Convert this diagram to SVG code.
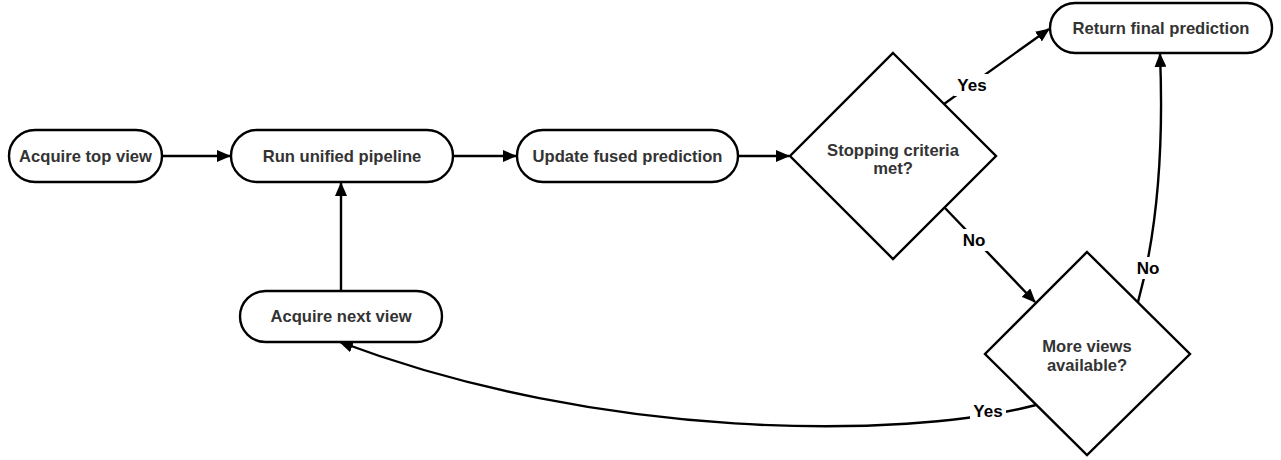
<svg xmlns="http://www.w3.org/2000/svg" width="1281" height="460" viewBox="0 0 1281 460">
<style>
.n{fill:#fff;stroke:#000;stroke-width:2.4}
.t{font-family:"Liberation Sans",Arial,sans-serif;font-weight:bold;font-size:16.6px;fill:#333;text-anchor:middle}
.e{fill:none;stroke:#000;stroke-width:2.4}
.l{font-family:"Liberation Sans",Arial,sans-serif;font-weight:bold;font-size:17px;fill:#000;text-anchor:middle}
.lb{fill:#fff}
</style>
<defs>
<marker id="a" viewBox="0 0 14 12" refX="13" refY="6" markerWidth="14" markerHeight="12" markerUnits="userSpaceOnUse" orient="auto">
<path d="M0,0 L14,6 L0,12 Z" fill="#000"/>
</marker>
</defs>
<g id="connectors">
<path class="e" d="M162,156 L230,156" marker-end="url(#a)"/>
<path class="e" d="M453,156 L516,156" marker-end="url(#a)"/>
<path class="e" d="M738,156 L789,156" marker-end="url(#a)"/>
<path class="e" d="M341,291 L341,183" marker-end="url(#a)"/>
<path class="e" d="M944,104 L1049,29" marker-end="url(#a)"/>
<path class="e" d="M945,208 L1035,302" marker-end="url(#a)"/>
<path class="e" d="M1138,302 Q1166,200 1160,54" marker-end="url(#a)"/>
<path class="e" d="M1036,405 C900,440 600,440 340,342" marker-end="url(#a)"/>
<rect class="lb" x="954" y="74" width="36" height="22"/>
<text class="l" x="972" y="91">Yes</text>
<rect class="lb" x="958" y="229" width="32" height="22"/>
<text class="l" x="974" y="246">No</text>
<rect class="lb" x="1132" y="257" width="32" height="22"/>
<text class="l" x="1148" y="274">No</text>
<rect class="lb" x="970" y="400" width="36" height="22"/>
<text class="l" x="988" y="417">Yes</text>
</g>
<g id="acquire-top">
<rect class="n" x="9" y="130" width="153" height="52" rx="26"/>
<text class="t" x="85.5" y="162">Acquire top view</text>
</g>
<g id="run-pipeline">
<rect class="n" x="231" y="130" width="222" height="52" rx="26"/>
<text class="t" x="342" y="162">Run unified pipeline</text>
</g>
<g id="update-fused">
<rect class="n" x="517" y="130" width="221" height="52" rx="26"/>
<text class="t" x="627.5" y="162">Update fused prediction</text>
</g>
<g id="stopping">
<path class="n" d="M893,53 L996,156 L893,259 L790,156 Z"/>
<text class="t" x="893" y="156">Stopping criteria</text>
<text class="t" x="893" y="174">met?</text>
</g>
<g id="more-views">
<path class="n" d="M1087,252 L1190,354 L1087,455 L985,354 Z"/>
<text class="t" x="1087" y="352">More views</text>
<text class="t" x="1087" y="371">available?</text>
</g>
<g id="return-final">
<rect class="n" x="1050" y="3" width="222" height="50" rx="25"/>
<text class="t" x="1161" y="34">Return final prediction</text>
</g>
<g id="acquire-next">
<rect class="n" x="240" y="291" width="202" height="51" rx="25.5"/>
<text class="t" x="341" y="322">Acquire next view</text>
</g>
</svg>
